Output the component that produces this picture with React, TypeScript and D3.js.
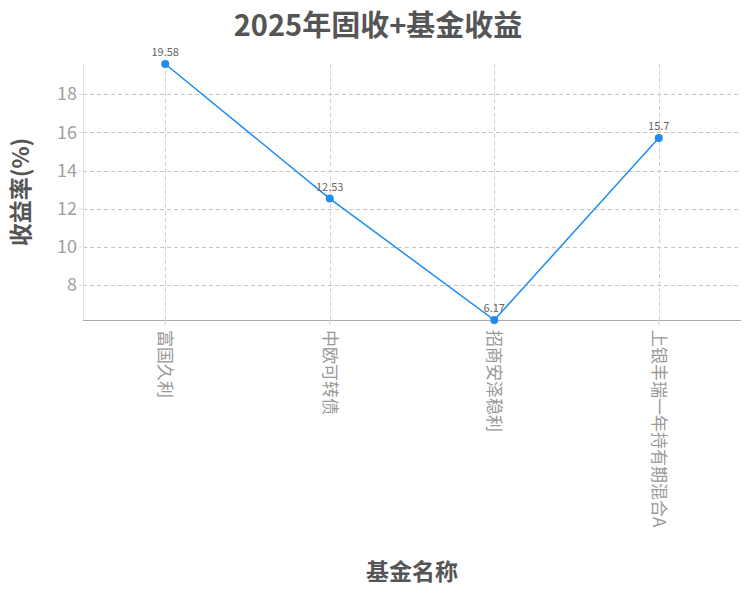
import * as d3 from "d3";

// 2025年固收+基金收益 — line chart of fund returns (%).

const WIDTH = 756;
const HEIGHT = 609;
const MARGIN = { top: 64, right: 15, bottom: 289, left: 83 };
const FONT = '"Noto Sans CJK SC", "Noto Sans", sans-serif';

const funds = ["富国久利", "中欧可转债", "招商安泽稳利", "上银丰瑞一年持有期混合A"];
const returns = [19.58, 12.53, 6.17, 15.7];
const yTicks = [8, 10, 12, 14, 16, 18];

const LINE = "#1e8cf0";

export default function App() {
  const innerW = WIDTH - MARGIN.left - MARGIN.right;
  const innerH = HEIGHT - MARGIN.top - MARGIN.bottom;

  const x = d3.scalePoint<string>().domain(funds).range([0, innerW]).padding(0.5);
  const y = d3
    .scaleLinear()
    .domain([d3.min(returns) ?? 0, d3.max(returns) ?? 1])
    .range([innerH, 0]);

  const points = funds.map((f, i) => ({ fund: f, value: returns[i] }));
  const line = d3
    .line<{ fund: string; value: number }>()
    .x((d) => x(d.fund) ?? 0)
    .y((d) => y(d.value));

  return (
    <svg
      width={WIDTH}
      height={HEIGHT}
      style={{ display: "block", position: "absolute", left: 0, top: 0, background: "#fff" }}
      fontFamily={FONT}
    >
      <text
        x={WIDTH / 2}
        y={36}
        textAnchor="middle"
        fontSize={29}
        fontWeight="bold"
        fill="#555"
      >
        2025年固收+基金收益
      </text>

      <g transform={`translate(${MARGIN.left},${MARGIN.top})`}>
        {/* horizontal grid */}
        {yTicks.map((t) => (
          <line
            key={`h${t}`}
            x1={0}
            x2={innerW}
            y1={Math.round(y(t)) + 0.5}
            y2={Math.round(y(t)) + 0.5}
            stroke="#c4c4c4"
            strokeDasharray="4 3"
          />
        ))}
        {/* vertical grid */}
        {funds.map((f) => (
          <line
            key={`v${f}`}
            x1={Math.round(x(f) ?? 0) + 0.5}
            x2={Math.round(x(f) ?? 0) + 0.5}
            y1={0}
            y2={innerH}
            stroke="#d0d0d0"
            strokeDasharray="4 3"
          />
        ))}

        {/* y axis */}
        <line x1={0.5} x2={0.5} y1={0} y2={innerH} stroke="#e0e0e0" />
        {yTicks.map((t) => (
          <g key={`yt${t}`} transform={`translate(0,${y(t)})`}>
            <line x1={-4} x2={0} stroke="#e0e0e0" />
            <text x={-6} dy="0.35em" textAnchor="end" fontSize={18} fill="#a0a0a0">
              {t}
            </text>
          </g>
        ))}

        {/* x axis */}
        <line x1={0} x2={innerW} y1={innerH + 0.5} y2={innerH + 0.5} stroke="#aaa" />
        {funds.map((f) => (
          <g key={`xt${f}`} transform={`translate(${x(f)},${innerH})`}>
            <line y1={0} y2={5} stroke="#ccc" />
            <text
              transform="translate(0,10) rotate(90)"
              dy="0.35em"
              textAnchor="start"
              fontSize={17}
              fill="#999"
            >
              {f}
            </text>
          </g>
        ))}

        {/* series */}
        <path d={line(points) ?? ""} fill="none" stroke={LINE} strokeWidth={1.5} />
        {points.map((p) => (
          <g key={`p${p.fund}`}>
            <circle cx={x(p.fund)} cy={y(p.value)} r={4} fill={LINE} />
            <text
              x={x(p.fund)}
              y={y(p.value) - 8}
              textAnchor="middle"
              fontSize={11}
              fill="#666"
            >
              {p.value}
            </text>
          </g>
        ))}
      </g>

      <text
        transform={`translate(21,${MARGIN.top + innerH / 2}) rotate(-90)`}
        textAnchor="middle"
        dy="0.35em"
        fontSize={23}
        fontWeight="bold"
        fill="#555"
      >
        收益率(%)
      </text>
      <text
        x={MARGIN.left + innerW / 2}
        y={580}
        textAnchor="middle"
        fontSize={23}
        fontWeight="bold"
        fill="#555"
      >
        基金名称
      </text>
    </svg>
  );
}
